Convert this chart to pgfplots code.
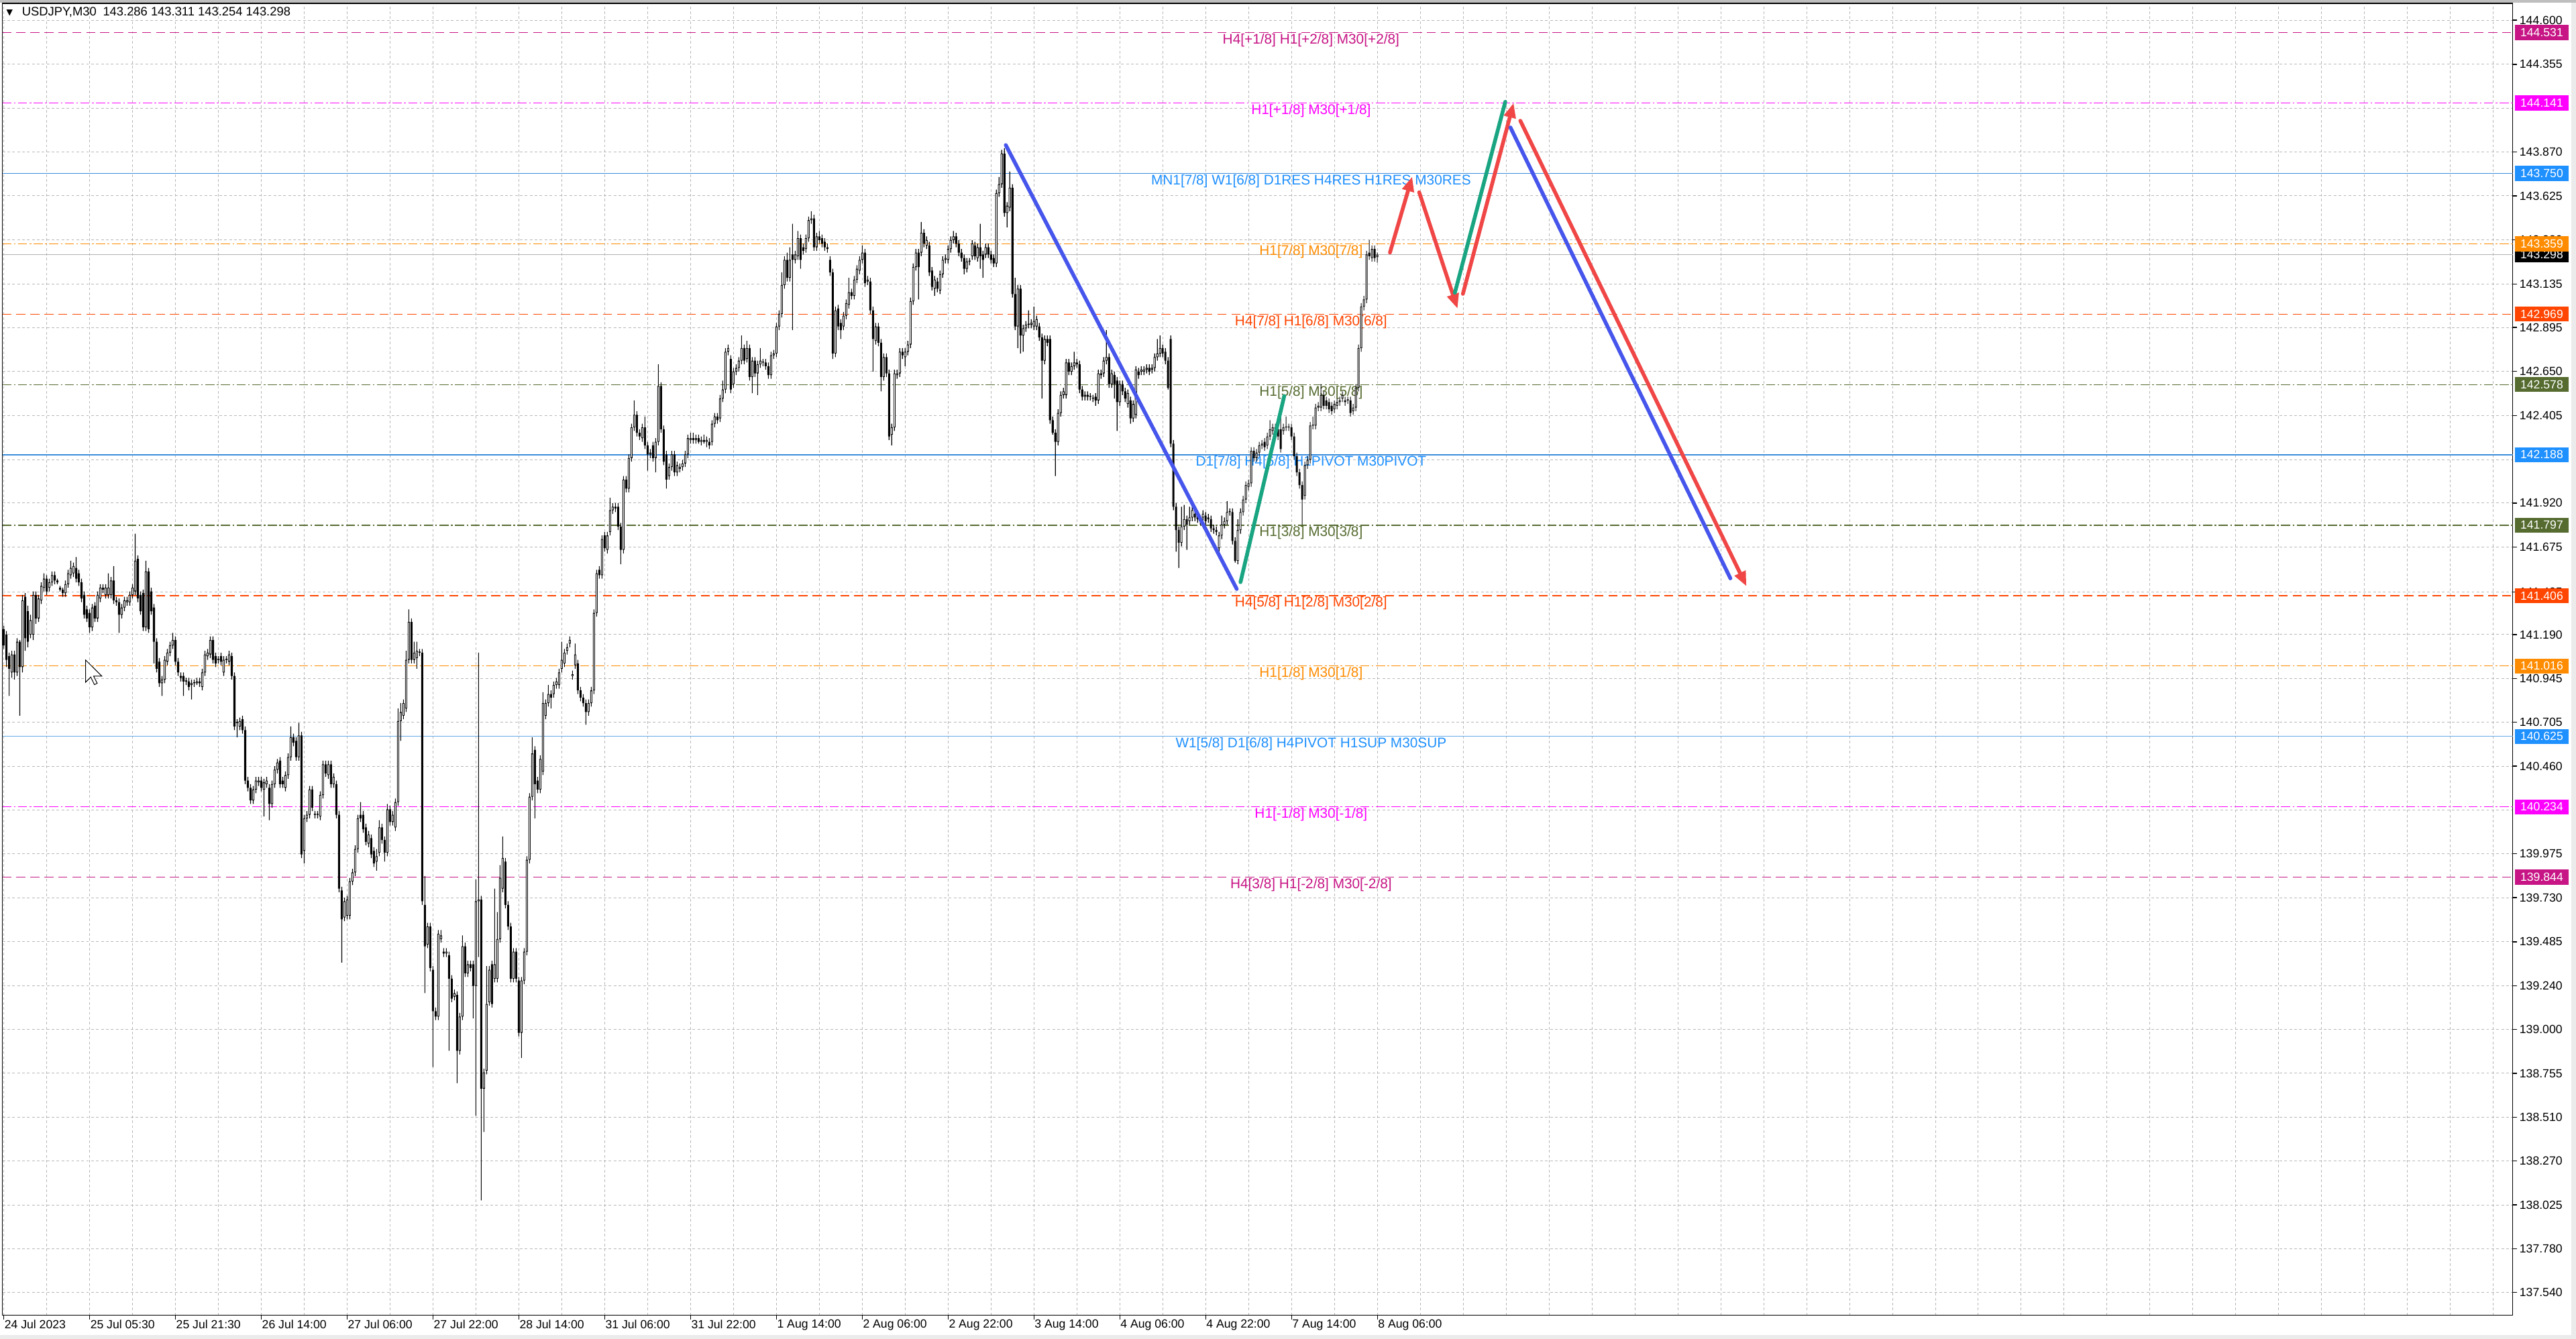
\documentclass[border=0pt]{standalone}
\usepackage{fontspec}
\setmainfont{Liberation Sans}
\newfontfamily\symfont{DejaVu Sans}
\usepackage{pgfplots}
\usepackage{pgfplotstable}
\pgfplotsset{compat=1.18}
\usetikzlibrary{arrows.meta}

\definecolor{mvr}{RGB}{199,21,133}
\definecolor{mag}{RGB}{255,0,255}
\definecolor{dblue}{RGB}{30,144,255}
\definecolor{lnblue}{RGB}{60,140,220}
\definecolor{lnblue2}{RGB}{100,170,230}
\definecolor{dorg}{RGB}{255,140,0}
\definecolor{ored}{RGB}{255,69,0}
\definecolor{olive}{RGB}{85,107,47}
\definecolor{arrred}{RGB}{240,70,70}
\definecolor{arrblue}{RGB}{70,85,235}
\definecolor{arrgreen}{RGB}{25,165,130}

\newcommand{\axfont}{\fontsize{7.2}{8}\selectfont}
\newcommand{\lvfont}{\fontsize{8.5}{9}\selectfont}

\pgfplotsset{chartframe/.style={at={(1.5pt,14.4pt)}, anchor=south west, scale only axis,
  width=1528pt, height=798.5pt, xmin=-0.47, xmax=935.2, enlargelimits=false},
  candleaxis/.style={chartframe, ymin=0.412, ymax=7.693, hide axis, ybar stacked}}

% USDJPY M30 candles: bar index, open, high, low, close
\pgfplotstableread{
i o h l c
0 141.22 141.24 141.11 141.13
1 141.19 141.21 141.01 141.05
2 141.07 141.09 140.85 141.00
3 140.98 141.10 140.95 141.08
4 141.08 141.10 140.94 140.98
5 140.98 141.17 140.96 141.15
6 141.15 141.16 140.74 141.01
7 141.01 141.41 140.98 141.38
8 141.40 141.42 141.10 141.17
9 141.32 141.35 141.12 141.15
10 141.19 141.30 141.17 141.27
11 141.19 141.43 141.16 141.41
12 141.41 141.43 141.25 141.28
13 141.28 141.41 141.26 141.39
14 141.38 141.48 141.36 141.46
15 141.45 141.53 141.43 141.50
16 141.50 141.52 141.41 141.43
17 141.45 141.50 141.43 141.48
18 141.48 141.54 141.46 141.52
19 141.52 141.54 141.47 141.49
20 141.49 141.50 141.47 141.48
21 141.45 141.46 141.43 141.44
22 141.44 141.45 141.40 141.42
23 141.42 141.49 141.40 141.47
24 141.47 141.55 141.45 141.53
25 141.52 141.60 141.50 141.56
26 141.53 141.59 141.51 141.57
27 141.56 141.62 141.48 141.50
28 141.53 141.55 141.46 141.48
29 141.48 141.50 141.37 141.39
30 141.41 141.43 141.28 141.30
31 141.33 141.35 141.26 141.28
32 141.31 141.33 141.20 141.23
33 141.23 141.36 141.21 141.34
34 141.35 141.37 141.26 141.28
35 141.28 141.43 141.26 141.41
36 141.39 141.47 141.37 141.45
37 141.45 141.47 141.42 141.44
38 141.41 141.47 141.39 141.45
39 141.41 141.53 141.39 141.45
40 141.41 141.51 141.39 141.49
41 141.49 141.57 141.36 141.38
42 141.38 141.40 141.35 141.37
43 141.37 141.39 141.20 141.30
44 141.30 141.36 141.28 141.34
45 141.34 141.40 141.32 141.38
46 141.37 141.40 141.35 141.38
47 141.37 141.43 141.35 141.41
48 141.41 141.47 141.39 141.45
49 141.43 141.75 141.41 141.60
50 141.61 141.63 141.37 141.39
51 141.41 141.43 141.30 141.32
52 141.42 141.44 141.21 141.23
53 141.23 141.60 141.21 141.54
54 141.54 141.56 141.20 141.22
55 141.43 141.45 141.30 141.32
56 141.34 141.36 141.03 141.15
57 141.15 141.17 140.98 141.00
58 141.04 141.06 140.90 140.92
59 140.92 140.96 140.85 140.94
60 140.94 141.07 140.92 141.05
61 141.04 141.11 141.02 141.09
62 141.09 141.15 141.07 141.13
63 141.13 141.20 141.11 141.16
64 141.16 141.18 141.02 141.04
65 141.04 141.06 140.96 140.98
66 140.96 140.98 140.93 140.95
67 140.96 140.98 140.85 140.93
68 140.93 140.95 140.91 140.93
69 140.93 140.95 140.88 140.90
70 140.91 140.94 140.83 140.92
71 140.92 140.94 140.90 140.92
72 140.92 140.95 140.91 140.93
73 140.93 140.95 140.90 140.92
74 140.90 141.00 140.88 140.98
75 140.98 141.10 140.96 141.08
76 141.07 141.11 141.05 141.09
77 141.08 141.18 141.06 141.16
78 141.16 141.18 141.03 141.05
79 141.07 141.09 141.01 141.03
80 141.05 141.07 141.03 141.05
81 141.07 141.09 141.02 141.04
82 140.98 141.07 140.96 141.05
83 141.05 141.07 141.03 141.05
84 141.04 141.10 141.02 141.08
85 141.07 141.09 140.94 140.96
86 140.96 140.98 140.66 140.68
87 140.70 140.72 140.62 140.70
88 140.68 140.73 140.66 140.71
89 140.72 140.74 140.64 140.66
90 140.66 140.68 140.36 140.38
91 140.38 140.40 140.32 140.34
92 140.34 140.36 140.25 140.27
93 140.27 140.35 140.25 140.33
94 140.33 140.40 140.31 140.38
95 140.37 140.40 140.35 140.38
96 140.38 140.40 140.32 140.34
97 140.33 140.39 140.18 140.37
98 140.36 140.40 140.34 140.38
99 140.34 140.36 140.16 140.25
100 140.25 140.38 140.23 140.36
101 140.36 140.46 140.34 140.44
102 140.44 140.50 140.42 140.48
103 140.49 140.51 140.34 140.36
104 140.38 140.40 140.34 140.36
105 140.34 140.43 140.32 140.41
106 140.41 140.53 140.39 140.51
107 140.51 140.68 140.49 140.62
108 140.62 140.64 140.57 140.59
109 140.60 140.62 140.49 140.51
110 140.51 140.70 140.49 140.63
111 140.63 140.65 139.95 139.97
112 139.99 140.19 139.92 140.17
113 140.17 140.21 140.15 140.19
114 140.19 140.35 140.17 140.33
115 140.33 140.35 140.21 140.23
116 140.19 140.21 140.17 140.19
117 140.19 140.21 140.17 140.19
118 140.18 140.32 140.16 140.30
119 140.30 140.49 140.28 140.47
120 140.47 140.49 140.40 140.42
121 140.41 140.49 140.39 140.47
122 140.47 140.49 140.34 140.36
123 140.36 140.42 140.34 140.40
124 140.36 140.38 140.17 140.19
125 140.19 140.21 139.76 139.78
126 139.77 139.79 139.37 139.61
127 139.62 139.73 139.60 139.71
128 139.63 139.74 139.61 139.72
129 139.63 139.84 139.61 139.82
130 139.82 139.89 139.80 139.87
131 139.87 140.02 139.85 140.00
132 140.00 140.19 139.98 140.17
133 140.19 140.26 140.15 140.17
134 140.19 140.21 140.09 140.11
135 140.12 140.14 140.02 140.04
136 140.03 140.10 140.01 140.08
137 140.06 140.08 139.95 139.97
138 139.99 140.01 139.90 139.92
139 139.93 140.00 139.88 139.96
140 139.98 140.16 139.96 140.12
141 140.12 140.14 140.03 140.05
142 140.05 140.07 139.93 139.98
143 139.98 140.25 139.96 140.22
144 140.22 140.24 140.13 140.15
145 140.15 140.21 140.13 140.19
146 140.12 140.28 140.10 140.26
147 140.26 140.78 140.24 140.71
148 140.71 140.81 140.60 140.76
149 140.74 140.83 140.72 140.81
150 140.78 141.10 140.76 141.05
151 141.05 141.33 141.03 141.26
152 141.26 141.28 141.03 141.05
153 141.05 141.15 141.03 141.09
154 141.06 141.15 141.00 141.10
155 141.09 141.11 141.07 141.09
156 141.09 141.11 139.69 139.71
157 139.69 139.85 139.20 139.46
158 139.47 139.59 139.45 139.57
159 139.57 139.59 139.32 139.34
160 139.33 139.35 138.79 139.10
161 139.10 139.12 139.05 139.07
162 139.07 139.55 139.05 139.53
163 139.50 139.55 139.48 139.52
164 139.43 139.45 139.40 139.42
165 139.42 139.45 139.40 139.43
166 139.41 139.43 138.88 139.28
167 139.28 139.30 139.15 139.17
168 139.18 139.22 139.16 139.20
169 139.19 139.21 138.70 138.88
170 138.88 139.09 138.86 139.07
171 139.07 139.52 139.05 139.46
172 139.46 139.48 139.29 139.31
173 139.31 139.38 139.29 139.36
174 139.36 139.38 139.32 139.34
175 139.36 139.38 139.06 139.24
176 139.24 139.83 138.52 139.71
177 139.71 141.09 139.40 139.72
178 139.72 139.74 138.05 138.67
179 138.67 138.78 138.43 138.76
180 138.77 139.35 138.75 139.14
181 139.15 139.35 139.13 139.33
182 139.36 139.38 139.12 139.14
183 139.28 139.78 139.26 139.36
184 139.28 139.65 139.26 139.50
185 139.50 139.91 139.48 139.84
186 139.78 140.07 139.76 139.95
187 139.93 139.95 139.67 139.69
188 139.69 139.71 139.55 139.57
189 139.57 139.59 139.26 139.28
190 139.28 139.45 139.26 139.43
191 139.43 139.45 139.26 139.28
192 139.27 139.29 138.96 138.98
193 138.98 139.29 138.84 139.27
194 139.27 139.45 139.25 139.43
195 139.43 139.96 139.41 139.94
196 139.94 140.31 139.92 140.29
197 140.29 140.62 140.27 140.53
198 140.55 140.57 140.17 140.36
199 140.38 140.40 140.31 140.33
200 140.33 140.52 140.31 140.50
201 140.43 140.87 140.41 140.81
202 140.74 140.83 140.72 140.81
203 140.81 140.91 140.79 140.86
204 140.86 140.88 140.78 140.84
205 140.86 140.93 140.84 140.91
206 140.91 140.95 140.89 140.93
207 140.91 141.00 140.89 140.98
208 141.00 141.15 140.98 141.05
209 141.03 141.11 141.01 141.09
210 141.10 141.14 141.08 141.12
211 141.14 141.18 141.12 141.16
212 140.96 140.99 140.94 140.97
213 141.02 141.14 141.00 141.08
214 141.03 141.05 140.86 140.88
215 140.88 140.90 140.82 140.84
216 140.84 140.86 140.79 140.81
217 140.81 140.83 140.69 140.76
218 140.76 140.83 140.74 140.81
219 140.81 140.90 140.79 140.88
220 140.88 141.33 140.86 141.31
221 141.31 141.55 141.29 141.53
222 141.55 141.57 141.50 141.52
223 141.52 141.74 141.50 141.72
224 141.74 141.76 141.65 141.67
225 141.66 141.76 141.64 141.74
226 141.76 141.95 141.74 141.88
227 141.88 141.92 141.86 141.90
228 141.90 141.92 141.87 141.89
229 141.90 141.92 141.77 141.79
230 141.79 141.81 141.58 141.66
231 141.66 142.07 141.64 142.05
232 142.05 142.07 141.98 142.00
233 142.00 142.19 141.98 142.17
234 142.17 142.36 142.15 142.34
235 142.34 142.49 142.32 142.41
236 142.41 142.43 142.29 142.31
237 142.31 142.33 142.27 142.29
238 142.28 142.36 142.26 142.34
239 142.34 142.40 142.22 142.24
240 142.24 142.26 142.10 142.19
241 142.19 142.22 142.17 142.20
242 142.24 142.26 142.15 142.17
243 142.17 142.28 142.09 142.26
244 142.26 142.69 142.24 142.57
245 142.57 142.59 142.31 142.33
246 142.33 142.35 142.13 142.15
247 142.19 142.21 142.00 142.05
248 142.07 142.14 142.05 142.12
249 142.12 142.21 142.10 142.19
250 142.19 142.21 142.07 142.09
251 142.09 142.15 142.07 142.13
252 142.11 142.14 142.09 142.12
253 142.12 142.16 142.10 142.14
254 142.14 142.21 142.12 142.19
255 142.19 142.30 142.17 142.28
256 142.27 142.31 142.25 142.28
257 142.28 142.31 142.25 142.27
258 142.27 142.30 142.25 142.28
259 142.28 142.30 142.25 142.26
260 142.26 142.29 142.24 142.27
261 142.27 142.30 142.25 142.26
262 142.26 142.29 142.23 142.27
263 142.26 142.28 142.22 142.24
264 142.26 142.38 142.24 142.36
265 142.36 142.42 142.34 142.40
266 142.40 142.42 142.36 142.38
267 142.39 142.52 142.37 142.50
268 142.50 142.60 142.48 142.55
269 142.55 142.78 142.53 142.76
270 142.76 142.80 142.74 142.78
271 142.72 142.74 142.53 142.55
272 142.58 142.67 142.56 142.65
273 142.65 142.69 142.63 142.67
274 142.67 142.73 142.65 142.71
275 142.71 142.85 142.69 142.78
276 142.78 142.80 142.69 142.71
277 142.72 142.82 142.70 142.78
278 142.78 142.80 142.60 142.62
279 142.62 142.73 142.53 142.71
280 142.71 142.73 142.62 142.64
281 142.64 142.71 142.52 142.69
282 142.69 142.78 142.67 142.71
283 142.70 142.72 142.68 142.70
284 142.70 142.72 142.66 142.68
285 142.68 142.70 142.61 142.63
286 142.63 142.76 142.61 142.74
287 142.74 142.77 142.72 142.75
288 142.75 142.92 142.73 142.90
289 142.90 142.99 142.88 142.97
290 142.97 143.20 142.95 143.13
291 143.13 143.29 143.11 143.27
292 143.27 143.31 143.15 143.17
293 143.17 143.34 143.15 143.27
294 143.30 143.47 142.88 143.27
295 143.27 143.32 143.25 143.30
296 143.29 143.43 143.27 143.39
297 143.39 143.41 143.22 143.27
298 143.34 143.36 143.30 143.32
299 143.33 143.41 143.31 143.39
300 143.39 143.51 143.37 143.49
301 143.49 143.54 143.47 143.50
302 143.50 143.52 143.32 143.34
303 143.34 143.42 143.32 143.40
304 143.40 143.43 143.36 143.38
305 143.39 143.41 143.34 143.36
306 143.37 143.39 143.32 143.34
307 143.34 143.36 143.31 143.33
308 143.27 143.29 143.18 143.20
309 143.20 143.22 142.72 142.75
310 142.75 143.01 142.73 142.99
311 143.00 143.02 142.88 142.90
312 142.92 142.94 142.83 142.88
313 142.90 142.98 142.88 142.96
314 142.96 143.05 142.94 143.03
315 143.02 143.17 143.00 143.09
316 143.09 143.11 143.05 143.07
317 143.07 143.18 143.05 143.16
318 143.16 143.24 143.14 143.22
319 143.21 143.29 143.19 143.27
320 143.27 143.35 143.25 143.31
321 143.31 143.33 143.12 143.14
322 143.15 143.18 143.13 143.16
323 143.15 143.17 142.97 142.99
324 142.99 143.01 142.65 142.83
325 142.82 142.92 142.80 142.90
326 142.90 142.92 142.79 142.81
327 142.81 142.83 142.54 142.62
328 142.62 142.75 142.60 142.73
329 142.73 142.75 142.62 142.64
330 142.64 142.66 142.27 142.29
331 142.30 142.36 142.24 142.34
332 142.34 142.66 142.32 142.64
333 142.63 142.66 142.61 142.64
334 142.64 142.78 142.62 142.76
335 142.76 142.78 142.72 142.74
336 142.73 142.78 142.68 142.76
337 142.76 142.82 142.74 142.80
338 142.80 143.06 142.78 143.04
339 143.04 143.25 143.02 143.23
340 143.23 143.33 143.21 143.31
341 143.31 143.33 143.05 143.23
342 143.31 143.48 143.29 143.42
343 143.42 143.44 143.34 143.36
344 143.35 143.40 143.33 143.38
345 143.35 143.37 143.18 143.20
346 143.21 143.23 143.10 143.12
347 143.11 143.18 143.07 143.16
348 143.15 143.17 143.09 143.11
349 143.10 143.21 143.08 143.19
350 143.19 143.29 143.17 143.27
351 143.27 143.30 143.25 143.28
352 143.27 143.35 143.25 143.33
353 143.33 143.40 143.31 143.38
354 143.38 143.43 143.36 143.40
355 143.40 143.42 143.34 143.36
356 143.36 143.38 143.29 143.31
357 143.31 143.33 143.26 143.28
358 143.28 143.30 143.19 143.22
359 143.22 143.28 143.20 143.26
360 143.26 143.28 143.24 143.26
361 143.29 143.38 143.27 143.36
362 143.35 143.37 143.27 143.29
363 143.28 143.36 143.26 143.34
364 143.34 143.47 143.22 143.29
365 143.30 143.32 143.17 143.27
366 143.30 143.36 143.28 143.34
367 143.34 143.36 143.28 143.30
368 143.30 143.32 143.25 143.27
369 143.28 143.30 143.23 143.25
370 143.25 143.66 143.23 143.64
371 143.64 143.73 143.62 143.69
372 143.69 143.88 143.67 143.86
373 143.86 143.89 143.51 143.53
374 143.53 143.59 143.45 143.57
375 143.56 143.76 143.54 143.67
376 143.67 143.69 143.06 143.08
377 143.08 143.17 142.88 142.90
378 142.90 143.13 142.78 143.11
379 143.11 143.13 142.75 142.85
380 142.85 142.91 142.76 142.89
381 142.89 142.93 142.87 142.91
382 142.91 142.99 142.89 142.91
383 142.91 142.94 142.89 142.92
384 142.90 143.01 142.88 142.93
385 142.90 142.96 142.88 142.94
386 142.90 142.92 142.82 142.84
387 142.84 142.86 142.50 142.71
388 142.71 142.85 142.69 142.83
389 142.83 142.85 142.79 142.81
390 142.83 142.85 142.36 142.38
391 142.38 142.40 142.30 142.31
392 142.31 142.33 142.07 142.26
393 142.26 142.44 142.24 142.42
394 142.42 142.54 142.40 142.52
395 142.52 142.56 142.50 142.54
396 142.52 142.72 142.50 142.70
397 142.70 142.72 142.63 142.65
398 142.65 142.70 142.63 142.68
399 142.68 142.76 142.66 142.70
400 142.70 142.72 142.67 142.69
401 142.69 142.71 142.53 142.55
402 142.55 142.57 142.49 142.51
403 142.51 142.54 142.49 142.52
404 142.52 142.54 142.49 142.51
405 142.51 142.53 142.49 142.51
406 142.50 142.52 142.48 142.50
407 142.51 142.53 142.46 142.49
408 142.49 142.66 142.47 142.64
409 142.64 142.66 142.61 142.63
410 142.64 142.73 142.62 142.71
411 142.71 142.88 142.69 142.73
412 142.73 142.75 142.56 142.58
413 142.58 142.66 142.56 142.64
414 142.63 142.65 142.50 142.58
415 142.60 142.62 142.32 142.48
416 142.48 142.60 142.46 142.58
417 142.58 142.60 142.52 142.54
418 142.54 142.56 142.48 142.50
419 142.47 142.55 142.45 142.53
420 142.49 142.51 142.36 142.39
421 142.39 142.49 142.37 142.47
422 142.41 142.68 142.39 142.66
423 142.65 142.67 142.61 142.63
424 142.65 142.68 142.63 142.66
425 142.65 142.68 142.63 142.66
426 142.66 142.69 142.64 142.67
427 142.67 142.69 142.63 142.65
428 142.66 142.69 142.64 142.67
429 142.67 142.75 142.65 142.73
430 142.73 142.83 142.71 142.75
431 142.75 142.85 142.73 142.78
432 142.78 142.80 142.73 142.75
433 142.76 142.78 142.69 142.71
434 142.71 142.73 142.55 142.56
435 142.83 142.85 142.23 142.25
436 142.25 142.27 141.88 141.90
437 141.90 141.92 141.65 141.77
438 141.77 141.79 141.56 141.70
439 141.70 141.90 141.68 141.79
440 141.79 141.91 141.77 141.83
441 141.83 141.85 141.66 141.80
442 141.82 141.90 141.80 141.84
443 141.84 141.90 141.82 141.88
444 141.86 141.88 141.82 141.84
445 141.85 141.87 141.81 141.83
446 141.83 141.85 141.80 141.82
447 141.84 141.88 141.82 141.86
448 141.85 141.87 141.80 141.82
449 141.84 141.86 141.81 141.83
450 141.83 141.85 141.76 141.78
451 141.78 141.80 141.75 141.77
452 141.77 141.79 141.74 141.76
453 141.67 141.76 141.65 141.74
454 141.74 141.85 141.72 141.80
455 141.80 141.84 141.78 141.82
456 141.82 141.93 141.80 141.87
457 141.87 141.89 141.85 141.87
458 141.87 141.89 141.69 141.71
459 141.71 141.73 141.59 141.60
460 141.60 141.83 141.58 141.77
461 141.77 141.89 141.75 141.87
462 141.87 141.96 141.85 141.94
463 141.94 142.04 141.92 142.02
464 142.01 142.05 141.99 142.03
465 142.03 142.23 142.01 142.21
466 142.21 142.23 142.15 142.17
467 142.17 142.22 142.15 142.20
468 142.20 142.26 142.18 142.24
469 142.24 142.27 142.22 142.25
470 142.26 142.28 142.21 142.23
471 142.24 142.31 142.22 142.29
472 142.29 142.38 142.27 142.33
473 142.32 142.36 142.30 142.34
474 142.34 142.36 142.31 142.33
475 142.33 142.35 142.27 142.29
476 142.33 142.40 142.20 142.22
477 142.32 142.36 142.30 142.34
478 142.34 142.40 142.32 142.34
479 142.34 142.36 142.32 142.34
480 142.34 142.36 142.27 142.29
481 142.29 142.31 142.16 142.18
482 142.18 142.20 142.07 142.09
483 142.09 142.11 142.00 142.02
484 142.02 142.04 141.80 141.94
485 141.96 142.15 141.94 142.13
486 142.13 142.18 142.11 142.16
487 142.16 142.37 142.14 142.35
488 142.35 142.40 142.33 142.35
489 142.35 142.47 142.33 142.45
490 142.45 142.48 142.43 142.46
491 142.45 142.58 142.43 142.52
492 142.52 142.54 142.44 142.46
493 142.49 142.51 142.44 142.46
494 142.48 142.50 142.42 142.44
495 142.46 142.48 142.41 142.43
496 142.44 142.49 142.42 142.47
497 142.46 142.50 142.44 142.48
498 142.48 142.51 142.46 142.49
499 142.50 142.54 142.48 142.52
500 142.49 142.51 142.46 142.48
501 142.49 142.51 142.47 142.49
502 142.49 142.51 142.40 142.42
503 142.43 142.47 142.41 142.45
504 142.45 142.58 142.43 142.56
505 142.56 142.80 142.54 142.78
506 142.78 143.03 142.76 143.01
507 143.01 143.07 142.99 143.05
508 143.05 143.32 143.03 143.30
509 143.31 143.38 143.27 143.29
510 143.28 143.35 143.26 143.33
511 143.33 143.35 143.26 143.28
512 143.286 143.311 143.254 143.298
}\candles

\begin{document}
\begin{tikzpicture}
\fill[white] (0pt,0pt) rectangle (1568pt,815pt);
\fill[black!8] (0pt,0pt) rectangle (1568pt,2.5pt);
\fill[black!8] (1565pt,0pt) rectangle (1568pt,815pt);
\fill[black!25] (0pt,813.2pt) rectangle (1568pt,815pt);

% frame, grid, ticks, level lines and their texts
\begin{axis}[
  chartframe, ymin=137.412, ymax=144.693,
  clip=false,
  axis line style={black, line width=0.6pt},
  tick align=outside, major tick length=2.5pt, minor tick length=0pt,
  tick style={black, line width=0.5pt},
  xtick pos=bottom, ytick pos=right, yticklabel pos=right,
  xtick={0,32,...,512},
  xticklabels={24 Jul 2023,25 Jul 05:30,25 Jul 21:30,26 Jul 14:00,27 Jul 06:00,27 Jul 22:00,28 Jul 14:00,31 Jul 06:00,31 Jul 22:00,1 Aug 14:00,2 Aug 06:00,2 Aug 22:00,3 Aug 14:00,4 Aug 06:00,4 Aug 22:00,7 Aug 14:00,8 Aug 06:00},
  minor xtick={16,32,...,928},
  ytick={144.600,144.355,143.870,143.625,143.380,143.135,142.895,142.650,142.405,141.920,141.675,141.425,141.190,140.945,140.705,140.460,139.975,139.730,139.485,139.240,139.000,138.755,138.510,138.270,138.025,137.780,137.540},
  yticklabels={144.600,144.355,143.870,143.625,143.380,143.135,142.895,142.650,142.405,141.920,141.675,141.425,141.190,140.945,140.705,140.460,139.975,139.730,139.485,139.240,139.000,138.755,138.510,138.270,138.025,137.780,137.540},
  minor ytick={144.110,142.160,140.215},
  grid=both,
  major grid style={black!28, line width=0.4pt, dash pattern=on 1.6pt off 1.4pt},
  minor grid style={black!28, line width=0.4pt, dash pattern=on 1.6pt off 1.4pt},
  xticklabel style={font=\axfont, anchor=north west, inner sep=0pt, xshift=0.3pt},
  yticklabel style={font=\axfont, anchor=west, inner sep=0pt, xshift=1.5pt},
]
\addplot[mvr, line width=0.5pt, dash pattern=on 5.5pt off 3pt] coordinates {(-0.47,144.531) (935.2,144.531)};
\addplot[mag, line width=0.5pt, dash pattern=on 5.5pt off 1.5pt on 1pt off 1.5pt] coordinates {(-0.47,144.141) (935.2,144.141)};
\addplot[lnblue, line width=0.6pt] coordinates {(-0.47,143.750) (935.2,143.750)};
\addplot[dorg, line width=0.5pt, dash pattern=on 5.5pt off 1.5pt on 1pt off 1.5pt] coordinates {(-0.47,143.359) (935.2,143.359)};
\addplot[black!30, line width=0.5pt] coordinates {(-0.47,143.298) (935.2,143.298)};
\addplot[ored, line width=0.5pt, dash pattern=on 5.5pt off 3pt] coordinates {(-0.47,142.969) (935.2,142.969)};
\addplot[olive, line width=0.5pt, dash pattern=on 5.5pt off 1.5pt on 1pt off 1.5pt] coordinates {(-0.47,142.578) (935.2,142.578)};
\addplot[lnblue, line width=0.5pt] coordinates {(-0.47,142.188) (935.2,142.188)};
\addplot[olive, line width=0.5pt, dash pattern=on 5.5pt off 1.5pt on 1pt off 1.5pt] coordinates {(-0.47,141.797) (935.2,141.797)};
\addplot[ored, line width=0.5pt, dash pattern=on 5.5pt off 3pt] coordinates {(-0.47,141.406) (935.2,141.406)};
\addplot[dorg, line width=0.5pt, dash pattern=on 5.5pt off 1.5pt on 1pt off 1.5pt] coordinates {(-0.47,141.016) (935.2,141.016)};
\addplot[lnblue2, line width=0.5pt] coordinates {(-0.47,140.625) (935.2,140.625)};
\addplot[mag, line width=0.5pt, dash pattern=on 5.5pt off 1.5pt on 1pt off 1.5pt] coordinates {(-0.47,140.234) (935.2,140.234)};
\addplot[mvr, line width=0.5pt, dash pattern=on 5.5pt off 3pt] coordinates {(-0.47,139.844) (935.2,139.844)};

\begin{scope}[every node/.style={font=\lvfont, anchor=north, inner sep=0pt, yshift=-0.6pt}]
\node[text=mvr] at (axis cs:487.3,144.531) {H4[+1/8] H1[+2/8] M30[+2/8]};
\node[text=mag] at (axis cs:487.3,144.141) {H1[+1/8] M30[+1/8]};
\node[text=dblue] at (axis cs:487.3,143.750) {MN1[7/8] W1[6/8] D1RES H4RES H1RES M30RES};
\node[text=dorg] at (axis cs:487.3,143.359) {H1[7/8] M30[7/8]};
\node[text=ored] at (axis cs:487.3,142.969) {H4[7/8] H1[6/8] M30[6/8]};
\node[text=olive] at (axis cs:487.3,142.578) {H1[5/8] M30[5/8]};
\node[text=dblue] at (axis cs:487.3,142.188) {D1[7/8] H4[6/8] H1PIVOT M30PIVOT};
\node[text=olive] at (axis cs:487.3,141.797) {H1[3/8] M30[3/8]};
\node[text=ored] at (axis cs:487.3,141.406) {H4[5/8] H1[2/8] M30[2/8]};
\node[text=dorg] at (axis cs:487.3,141.016) {H1[1/8] M30[1/8]};
\node[text=dblue] at (axis cs:487.3,140.625) {W1[5/8] D1[6/8] H4PIVOT H1SUP M30SUP};
\node[text=mag] at (axis cs:487.3,140.234) {H1[-1/8] M30[-1/8]};
\node[text=mvr] at (axis cs:487.3,139.844) {H4[3/8] H1[-2/8] M30[-2/8]};
\end{scope}
\end{axis}

% candles as floating stacked bars (prices taken relative to 137): wicks
\begin{axis}[candleaxis]
\addplot[draw=none, fill=none, bar width=0.45pt] table[x=i, y expr={\thisrow{l}-137}] {\candles};
\addplot[draw=none, fill=black, bar width=0.45pt] table[x=i, y expr={\thisrow{h}-\thisrow{l}}] {\candles};
\end{axis}
% bodies
\begin{axis}[candleaxis]
\addplot[draw=none, fill=none, bar width=1.25pt] table[x=i, y expr={min(\thisrow{o},\thisrow{c})-137}] {\candles};
\addplot[draw=none, fill=black, bar width=1.25pt] table[x=i, y expr={max(abs(\thisrow{o}-\thisrow{c}),0.005)}] {\candles};
\end{axis}
% hollow part of rising candles
\begin{axis}[candleaxis]
\addplot[draw=none, fill=none, bar width=0.45pt] table[x=i, y expr={\thisrow{o}+0.004-137}] {\candles};
\addplot[draw=none, fill=white, bar width=0.45pt] table[x=i, y expr={(\thisrow{c}-\thisrow{o}>0.009) ? (\thisrow{c}-\thisrow{o}-0.008) : 0}] {\candles};
\end{axis}

% overlay: swing lines, arrows, cursor, header, price boxes
\begin{axis}[chartframe, ymin=137.412, ymax=144.693, hide axis, clip=false]
\draw[arrblue, line width=2.3pt, line cap=round] (axis cs:373.5,143.907) -- (axis cs:459.6,141.443);
\draw[arrgreen, line width=2.3pt, line cap=round] (axis cs:461.0,141.481) -- (axis cs:477.3,142.514);
\draw[arrred, line width=2.3pt, line cap=round, -{Triangle[length=9pt,width=7pt]}] (axis cs:516.7,143.310) -- (axis cs:525.0,143.732);
\draw[arrred, line width=2.3pt, line cap=round, -{Triangle[length=9pt,width=7pt]}] (axis cs:527.6,143.645) -- (axis cs:541.9,142.999);
\draw[arrgreen, line width=2.3pt, line cap=round] (axis cs:540.9,143.087) -- (axis cs:559.7,144.147);
\draw[arrred, line width=2.3pt, line cap=round, -{Triangle[length=9pt,width=7pt]}] (axis cs:543.9,143.081) -- (axis cs:562.8,144.141);
\draw[arrblue, line width=2.3pt, line cap=round] (axis cs:561.6,144.005) -- (axis cs:643.6,141.502);
\draw[arrred, line width=2.3pt, line cap=round, -{Triangle[length=9pt,width=7pt]}] (axis cs:565.3,144.042) -- (axis cs:649.6,141.458);

\draw[black, fill=white, line width=0.4pt, line join=miter] (axis cs:30.5,141.049) -- ++(0pt,-13.6pt) -- ++(3.2pt,3.2pt) -- ++(2.2pt,-4.6pt) -- ++(1.7pt,0.8pt) -- ++(-2.2pt,4.4pt) -- ++(5pt,0pt) -- cycle;

\node[anchor=center, inner sep=0pt, font=\symfont\fontsize{5}{5}\selectfont, xshift=4.4pt, yshift=-5.6pt] at (rel axis cs:0,1) {▼};
\node[anchor=west, inner sep=0pt, font=\fontsize{7.5}{8}\selectfont, xshift=11.7pt, yshift=-5.4pt] at (rel axis cs:0,1) {USDJPY,M30\hspace{4pt}143.286 143.311 143.254 143.298};

\begin{scope}[every node/.style={font=\axfont, text=white, anchor=west, inner sep=0pt, minimum width=32.6pt, minimum height=9.1pt, xshift=1.2pt}]
\node[fill=black] at (axis cs:935.2,143.298) {143.298};
\node[fill=mvr] at (axis cs:935.2,144.531) {144.531};
\node[fill=mag] at (axis cs:935.2,144.141) {144.141};
\node[fill=dblue] at (axis cs:935.2,143.750) {143.750};
\node[fill=dorg] at (axis cs:935.2,143.359) {143.359};
\node[fill=ored] at (axis cs:935.2,142.969) {142.969};
\node[fill=olive] at (axis cs:935.2,142.578) {142.578};
\node[fill=dblue] at (axis cs:935.2,142.188) {142.188};
\node[fill=olive] at (axis cs:935.2,141.797) {141.797};
\node[fill=ored] at (axis cs:935.2,141.406) {141.406};
\node[fill=dorg] at (axis cs:935.2,141.016) {141.016};
\node[fill=dblue] at (axis cs:935.2,140.625) {140.625};
\node[fill=mag] at (axis cs:935.2,140.234) {140.234};
\node[fill=mvr] at (axis cs:935.2,139.844) {139.844};
\end{scope}
\end{axis}
\pgfresetboundingbox
\useasboundingbox (0pt,0pt) rectangle (1568pt,815pt);
\end{tikzpicture}
\end{document}
